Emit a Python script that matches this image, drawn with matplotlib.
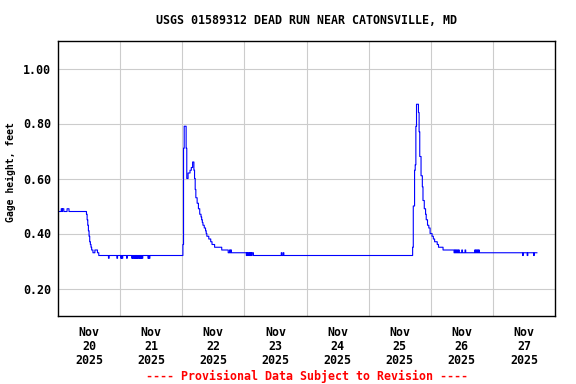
import numpy as np
import matplotlib
matplotlib.use("Agg")
import matplotlib.pyplot as plt

# ---- data (hours since Nov 20 00:00, gage height in feet) ----
# step breakpoints: value holds until the next breakpoint
step_hours = [0.0, 11.0, 11.25, 11.5, 11.75, 12.0, 12.25, 12.5, 12.75, 13.0, 13.5, 14.25, 15.25, 15.75,
              48.25, 48.5, 48.75, 49.5, 49.75, 50.25, 51.0, 51.5, 52.0, 52.5, 52.75, 53.0, 53.25,
              53.75, 54.25, 54.75, 55.25, 55.5, 55.75, 56.0, 56.5, 57.0, 57.25, 57.5, 58.25, 59.0,
              59.5, 60.5, 63.25, 65.75, 75.5,
              137.0, 137.25, 137.75, 138.0, 138.25, 138.5, 139.25, 139.5, 139.75, 140.25, 140.75,
              141.0, 141.5, 142.0, 142.25, 142.75, 143.25, 143.75, 144.5, 145.0, 145.5, 146.5,
              147.0, 148.75, 153.0]
step_values = [0.48, 0.47, 0.45, 0.43, 0.41, 0.39, 0.37, 0.36, 0.35, 0.34, 0.33, 0.34, 0.33, 0.32,
               0.36, 0.71, 0.79, 0.71, 0.60, 0.62, 0.63, 0.64, 0.66, 0.63, 0.60, 0.56, 0.53,
               0.51, 0.49, 0.47, 0.46, 0.45, 0.44, 0.43, 0.42, 0.41, 0.40, 0.39, 0.38, 0.37,
               0.36, 0.35, 0.34, 0.33, 0.32,
               0.35, 0.50, 0.63, 0.65, 0.79, 0.87, 0.84, 0.77, 0.68, 0.61, 0.57,
               0.52, 0.49, 0.47, 0.45, 0.43, 0.42, 0.40, 0.39, 0.38, 0.37, 0.36,
               0.35, 0.34, 0.33]
end_hour = 185.0

# single 15-minute readings that differ from the held level
spike_hours = [1.25, 1.75, 2.0, 3.5, 3.75, 4.0,
               19.5, 22.75, 24.25, 24.75, 26.5, 28.5, 29.0, 29.5, 30.0, 30.5, 31.0, 31.5, 32.0, 32.5,
               34.75, 35.25,
               62.0, 62.5, 66.25, 66.75, 72.75, 73.25, 73.75, 74.25, 74.75, 86.25, 87.0,
               153.25, 153.75, 154.25, 154.75, 156.0, 157.25, 161.0, 161.5, 162.0, 162.5,
               179.5, 181.25, 183.75]
spike_values = [0.49, 0.49, 0.49, 0.49, 0.49, 0.49,
                0.31, 0.31, 0.31, 0.31, 0.31, 0.31, 0.31, 0.31, 0.31, 0.31, 0.31, 0.31, 0.31, 0.31,
                0.31, 0.31,
                0.35, 0.35, 0.34, 0.34, 0.32, 0.32, 0.32, 0.32, 0.32, 0.33, 0.33,
                0.34, 0.34, 0.34, 0.34, 0.34, 0.34, 0.34, 0.34, 0.34, 0.34,
                0.32, 0.32, 0.32]

day_tick_hours = [12, 36, 60, 84, 108, 132, 156, 180]
day_labels = ["Nov\n20\n2025", "Nov\n21\n2025", "Nov\n22\n2025", "Nov\n23\n2025",
              "Nov\n24\n2025", "Nov\n25\n2025", "Nov\n26\n2025", "Nov\n27\n2025"]
y_ticks = [0.20, 0.40, 0.60, 0.80, 1.00]

title = "USGS 01589312 DEAD RUN NEAR CATONSVILLE, MD"
footer = "---- Provisional Data Subject to Revision ----"

# ---- build 15-minute series ----
t = np.arange(0.0, end_hour + 0.001, 0.25)
idx = np.searchsorted(np.array(step_hours), t, side="right") - 1
v = np.array(step_values)[idx]
for h, val in zip(spike_hours, spike_values):
    k = int(round(h / 0.25))
    v[k] = val

# ---- figure ----
W, H = 576, 384
fig = plt.figure(figsize=(W / 100, H / 100), dpi=100)
L, R, T, B = 58, 555, 41, 316
ax = fig.add_axes([L / W, 1 - B / H, (R - L) / W, (B - T) / H])

fp = dict(family="DejaVu Sans Mono", weight="bold", size=8.4)

ax.plot(t, v, drawstyle="steps-post", color="#0000ff", lw=0.8)

ax.set_xlim(0, 192)
ax.set_ylim(0.10, 1.10)
ax.set_xticks(day_tick_hours)
ax.set_xticklabels(day_labels, linespacing=1.1, **fp)
ax.set_xticks(np.arange(24, 192, 24), minor=True)
ax.set_yticks(y_ticks)
ax.set_yticklabels([f"{y:.2f}" for y in y_ticks], **fp)
ax.tick_params(axis="both", which="both", length=0)
ax.tick_params(axis="x", pad=7)
ax.tick_params(axis="y", pad=5)
ax.grid(True, which="minor", axis="x", color="#cccccc", lw=0.8)
ax.grid(True, which="major", axis="y", color="#cccccc", lw=0.8)
ax.set_axisbelow(True)
for s in ax.spines.values():
    s.set_linewidth(1.0)
    s.set_color("black")

ax.set_ylabel("Gage height, feet", family="DejaVu Sans Mono", weight="bold", size=7.0)
ax.yaxis.set_label_coords(-(L - 16) / (R - L), (B - 172) / (B - T))

fig.text((L + R) / 2 / W, 1 - 21 / H, title, ha="center", va="center", **fp)
fig.text((L + R) / 2 / W, 1 - 376 / H, footer, ha="center", va="center", color="#ff0000", **fp)

fig.savefig("out.png", dpi=100)
